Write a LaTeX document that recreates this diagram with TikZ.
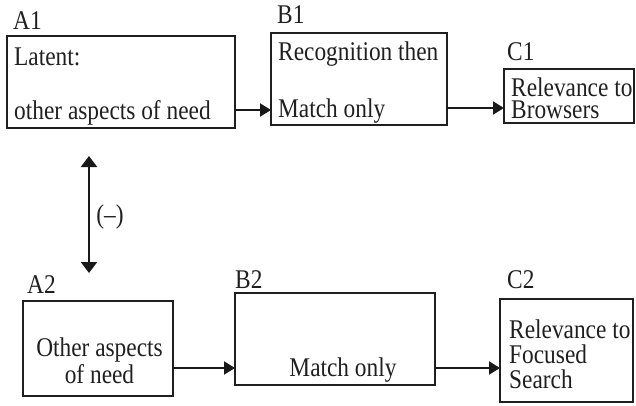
\documentclass[tikz,border=0pt]{standalone}
\usepackage{fontspec}
\setmainfont[FakeStretch=0.865]{Liberation Serif}
\usetikzlibrary{arrows.meta}

\tikzset{
  box/.style={draw=black!88, line width=1.2pt, inner sep=0pt, outer sep=0pt},
  txt/.style={anchor=base west, inner sep=0pt, font=\fontsize{27}{27}\selectfont, text=black!88},
  ctxt/.style={anchor=base, inner sep=0pt, font=\fontsize{27}{27}\selectfont, text=black!88},
  flow/.style={draw=black!90, line width=2pt, -{Triangle[length=11pt,width=13pt]}},
  both/.style={draw=black!90, line width=2.2pt, {Triangle[length=11pt,width=16pt]}-{Triangle[length=11pt,width=16pt]}}
}

\begin{document}
\begin{tikzpicture}[x=1pt, y=-1pt]
  \useasboundingbox (0,0) rectangle (636,405);

  % boxes
  \node[box, minimum width=228pt, minimum height=92pt, anchor=north west] (A1) at (7,36) {};
  \node[box, minimum width=176pt, minimum height=92pt, anchor=north west] (B1) at (271,33) {};
  \node[box, minimum width=130pt, minimum height=54pt, anchor=north west] (C1) at (504,69) {};
  \node[box, minimum width=150pt, minimum height=95pt, anchor=north west] (A2) at (23,301) {};
  \node[box, minimum width=200pt, minimum height=92pt, anchor=north west] (B2) at (235,293) {};
  \node[box, minimum width=133pt, minimum height=103pt, anchor=north west] (C2) at (500,299) {};

  % box labels
  \node[txt] (lA1) at (13,29) {A1};
  \node[txt] (lB1) at (277,23) {B1};
  \node[txt] (lC1) at (507,60) {C1};
  \node[txt] (lA2) at (27,293) {A2};
  \node[txt] (lB2) at (235,288) {B2};
  \node[txt] (lC2) at (507,288) {C2};

  % box contents
  \node[txt] (tA1a) at (14,65) {Latent:};
  \node[txt] (tA1b) at (14,119) {other aspects of need};
  \node[txt] (tB1a) at (278,60) {Recognition then};
  \node[txt] (tB1b) at (278,117) {Match only};
  \node[txt] (tC1a) at (511,96) {Relevance to};
  \node[txt] (tC1b) at (511,118) {Browsers};
  \node[ctxt] (tA2a) at (99.5,356) {Other aspects};
  \node[ctxt] (tA2b) at (99.5,383) {of need};
  \node[ctxt] (tB2) at (343,376) {Match only};
  \node[txt] (tC2a) at (509,338) {Relevance to};
  \node[txt] (tC2b) at (509,363) {Focused};
  \node[txt] (tC2c) at (509,388) {Search};

  % flow arrows
  \draw[flow] (A1.east |- 0,110) -- (B1.west |- 0,110);
  \draw[flow] (B1.east |- 0,108) -- (C1.west |- 0,108);
  \draw[flow] (A2.east |- 0,368) -- (B2.west |- 0,368);
  \draw[flow] (B2.east |- 0,368) -- (C2.west |- 0,368);

  % two-way link between A1 and A2
  \coordinate (top) at (89,156);
  \coordinate (bot) at (89,273);
  \draw[both] (top) -- (bot);
  \node[ctxt] (neg) at (110,223) {(–)};
\end{tikzpicture}
\end{document}
